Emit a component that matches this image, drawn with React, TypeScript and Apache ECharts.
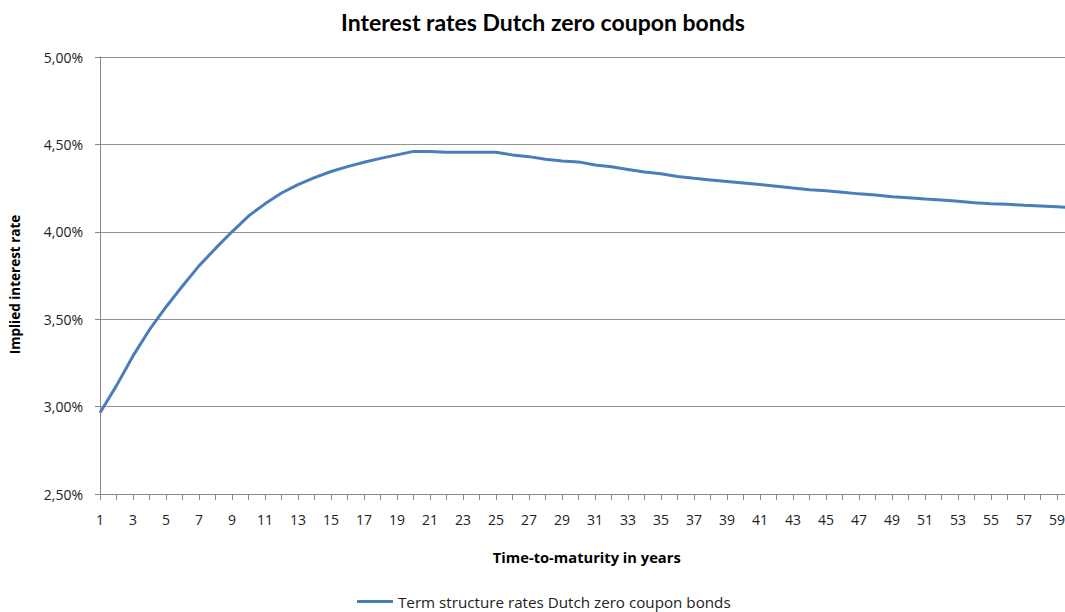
import React, { useEffect, useRef } from "react";
import * as echarts from "echarts";

const maturities: string[] = Array.from({ length: 60 }, (_, i) => String(i + 1));

const rates: number[] = [
  2.965, 3.12, 3.29, 3.44, 3.57, 3.69, 3.805, 3.905, 4.0, 4.09,
  4.16, 4.222, 4.27, 4.31, 4.345, 4.373, 4.398, 4.42, 4.44, 4.46,
  4.46, 4.455, 4.455, 4.455, 4.455, 4.44, 4.43, 4.415, 4.405, 4.4,
  4.382, 4.372, 4.357, 4.342, 4.332, 4.316, 4.306, 4.297, 4.288, 4.279,
  4.27, 4.26, 4.25, 4.241, 4.235, 4.226, 4.217, 4.21, 4.201, 4.195,
  4.187, 4.182, 4.175, 4.166, 4.161, 4.157, 4.152, 4.148, 4.143, 4.138,
];

const yTicks = { min: 2.5, max: 5.0, step: 0.5 };

const FONT = "'Open Sans', sans-serif";
const TITLE_FONT = "Lato, sans-serif";

export default function App() {
  const ref = useRef<HTMLDivElement>(null);
  useEffect(() => {
    if (!ref.current) return;
    const chart = echarts.init(ref.current, null, { renderer: "svg" });
    chart.setOption({
      animation: false,
      backgroundColor: "#ffffff",
      textStyle: { fontFamily: FONT },
      title: {
        text: "Interest rates Dutch zero coupon bonds",
        left: 538,
        textAlign: "center",
        top: 5,
        textStyle: { fontFamily: TITLE_FONT, fontSize: 23, fontWeight: "bold", color: "#000" },
      },
      legend: {
        left: 357,
        top: 594,
        padding: 0,
        icon: "rect",
        itemWidth: 36,
        itemHeight: 3,
        itemGap: 10,
        textStyle: { fontFamily: FONT, fontSize: 15.2, color: "#222" },
        data: ["Term structure rates Dutch zero coupon bonds"],
      },
      grid: { left: 100, right: 11.5, top: 57, bottom: 118, containLabel: false, outerBoundsMode: "none" },
      xAxis: {
        type: "category",
        data: maturities,
        boundaryGap: false,
        name: "Time-to-maturity in years",
        nameLocation: "middle",
        nameGap: 55,
        nameTextStyle: { fontFamily: FONT, fontSize: 14.7, fontWeight: "bold", color: "#000" },
        axisLine: { lineStyle: { color: "#888", width: 1 } },
        axisTick: { show: true, interval: 0, length: 6, lineStyle: { color: "#888" } },
        axisLabel: { interval: 1, margin: 18, fontFamily: FONT, fontSize: 14, color: "#222" },
        splitLine: { show: false },
      },
      yAxis: {
        type: "value",
        min: yTicks.min,
        max: yTicks.max,
        interval: yTicks.step,
        name: "Implied interest rate",
        nameLocation: "middle",
        nameGap: 78,
        nameRotate: 90,
        nameTextStyle: {
          fontFamily: FONT,
          fontSize: 13.5,
          fontWeight: "bold",
          color: "#000",
          padding: [0, 18, 0, 0],
        },
        axisLine: { show: true, lineStyle: { color: "#888", width: 1 } },
        axisTick: { show: true, length: 5, lineStyle: { color: "#888" } },
        axisLabel: {
          margin: 17,
          fontFamily: FONT,
          fontSize: 14,
          color: "#222",
          formatter: (v: number) => v.toFixed(2).replace(".", ",") + "%",
        },
        splitLine: { show: true, lineStyle: { color: "#929292", width: 1 } },
      },
      series: [
        {
          name: "Term structure rates Dutch zero coupon bonds",
          type: "line",
          data: rates,
          showSymbol: false,
          symbol: "none",
          lineStyle: { color: "#4a7ebb", width: 3 },
          itemStyle: { color: "#4a7ebb" },
        },
      ],
    });
    return () => chart.dispose();
  }, []);
  return (
    <div style={{ position: "fixed", left: 0, top: 0, width: 1065, height: 612, overflow: "hidden", background: "#fff" }}>
      <div ref={ref} style={{ width: 1085, height: 612 }} />
    </div>
  );
}
